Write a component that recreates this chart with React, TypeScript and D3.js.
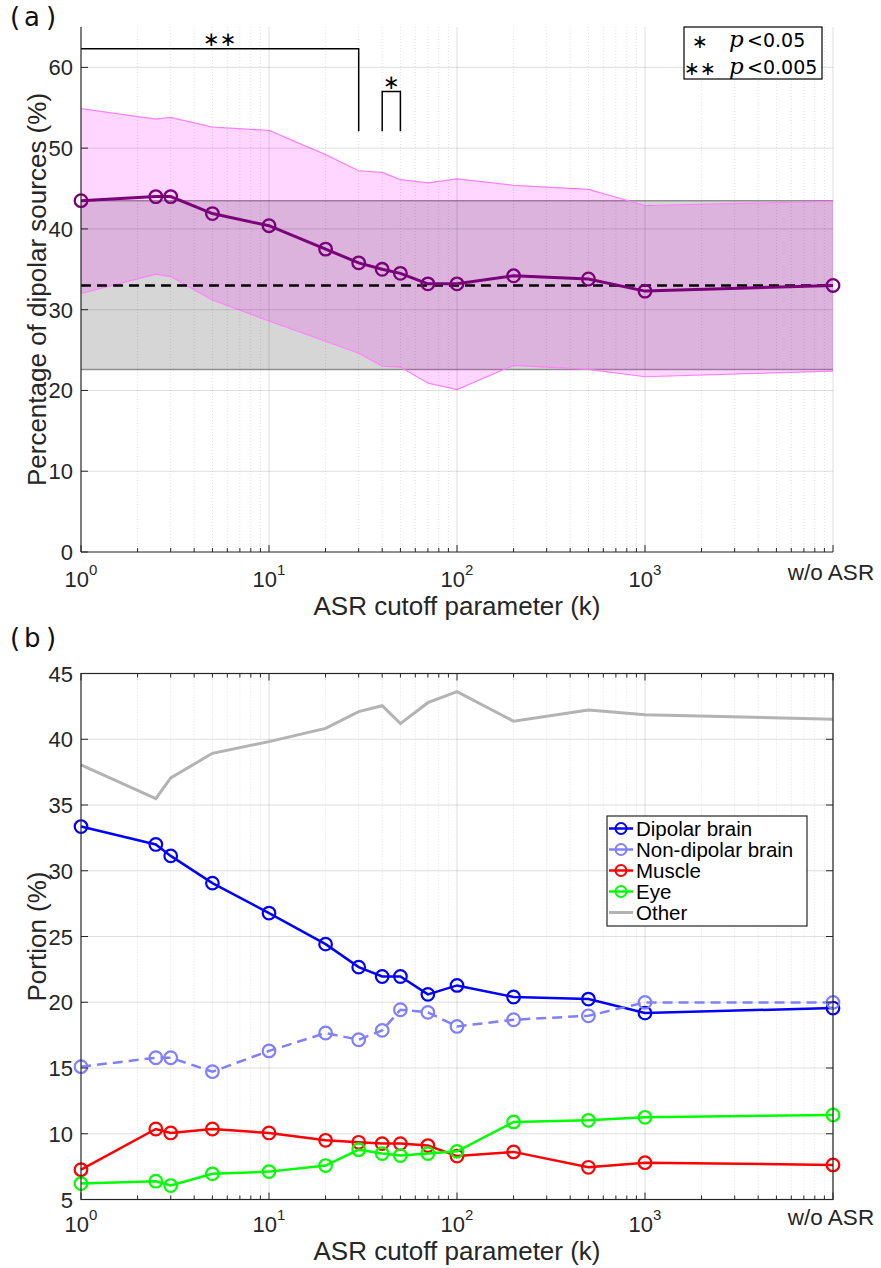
import React from "react";
import * as d3 from "d3";

// ---------- data ----------
// ASR cutoff values; 10000 stands for "w/o ASR"
const kValues = [1, 2.5, 3, 5, 10, 20, 30, 40, 50, 70, 100, 200, 500, 1000, 10000];
const xMajorTicks = [1, 10, 100, 1000];
const xMajorExponents = ["0", "1", "2", "3"];
const noAsrValue = 10000;
const noAsrLabel = "w/o ASR";

// Panel (a)
const dipolarMean = [43.5, 44.0, 44.0, 41.9, 40.4, 37.5, 35.8, 35.0, 34.5, 33.2, 33.2, 34.2, 33.8, 32.3, 33.0];
const dipolarUpper = [54.9, 53.6, 53.8, 52.6, 52.2, 49.2, 47.2, 47.0, 46.1, 45.7, 46.2, 45.4, 44.9, 42.9, 43.4];
const dipolarLower = [32.0, 34.4, 34.1, 31.2, 28.6, 26.1, 24.6, 23.0, 22.9, 20.9, 20.1, 23.1, 22.6, 21.7, 22.4];
const baselineMean = 33.0;
const baselineUpper = 43.5;
const baselineLower = 22.6;
const aYTicks = [0, 10, 20, 30, 40, 50, 60];
const sigBrackets = [
  { from: 1, to: 30, level: 62.3, drop: 52.1, label: "\u2217\u2217", leftDrop: false },
  { from: 40, to: 50, level: 57.0, drop: 52.1, label: "\u2217", leftDrop: true },
];
const sigLegendStars = ["\u2217", "\u2217\u2217"];
const sigLegendText = ["<0.05", "<0.005"];

// Panel (b)
const dipolarBrain = [33.36, 32.0, 31.13, 29.06, 26.78, 24.42, 22.67, 21.96, 21.96, 20.6, 21.28, 20.4, 20.24, 19.18, 19.56];
const nonDipolarBrain = [15.1, 15.78, 15.78, 14.72, 16.3, 17.66, 17.15, 17.86, 19.43, 19.23, 18.16, 18.67, 18.97, 19.99, 19.99];
const muscle = [7.27, 10.36, 10.06, 10.36, 10.06, 9.5, 9.35, 9.25, 9.25, 9.1, 8.3, 8.62, 7.45, 7.8, 7.63];
const eye = [6.21, 6.39, 6.06, 6.95, 7.12, 7.58, 8.79, 8.49, 8.34, 8.49, 8.66, 10.9, 11.02, 11.25, 11.43];
const other = [38.05, 35.49, 37.06, 38.93, 39.82, 40.83, 42.1, 42.55, 41.19, 42.78, 43.62, 41.37, 42.23, 41.87, 41.52];
const bYTicks = [5, 10, 15, 20, 25, 30, 35, 40, 45];
const bSeries = [
  { name: "Dipolar brain", values: dipolarBrain, color: "#0000ff", dashed: false, markers: true },
  { name: "Non-dipolar brain", values: nonDipolarBrain, color: "#8080ff", dashed: true, markers: true },
  { name: "Muscle", values: muscle, color: "#ff0000", dashed: false, markers: true },
  { name: "Eye", values: eye, color: "#00ff00", dashed: false, markers: true },
  { name: "Other", values: other, color: "#b3b3b3", dashed: false, markers: false },
];

// ---------- layout ----------
const W = 881;
const H = 1268;
const X0 = 81;
const X1 = 833;
const A = { top: 27, bottom: 552 };
const B = { top: 673.5, bottom: 1199.5 };
const AX = "#262626";
const FONT = "'Liberation Sans', Arial, sans-serif";
const GRID = "rgba(0,0,0,0.13)";
const GRID_MINOR = "rgba(0,0,0,0.12)";

const minorTicks: number[] = [];
for (const d of [1, 10, 100, 1000]) for (let m = 2; m <= 9; m++) minorTicks.push(m * d);

function XAxisLabels({ x, axisY }: { x: d3.ScaleLogarithmic<number, number>; axisY: number }) {
  return (
    <g fontFamily={FONT} fill={AX}>
      {xMajorTicks.map((t, i) => (
        <text key={t} x={x(t)} y={axisY + 35} fontSize={22} textAnchor="middle">
          10<tspan fontSize={15} dy={-12}>{xMajorExponents[i]}</tspan>
        </text>
      ))}
      <text x={x(noAsrValue) - 2} y={axisY + 28} fontSize={22.5} textAnchor="middle">
        {noAsrLabel}
      </text>
      <text x={(X0 + X1) / 2} y={axisY + 63} fontSize={26} textAnchor="middle">
        ASR cutoff parameter (k)
      </text>
    </g>
  );
}

function XTicks({ x, y, dir }: { x: d3.ScaleLogarithmic<number, number>; y: number; dir: number }) {
  return (
    <g stroke={AX} strokeWidth={1}>
      {[...xMajorTicks, noAsrValue].map((t) => (
        <line key={"M" + t} x1={x(t)} x2={x(t)} y1={y} y2={y + dir * 7} />
      ))}
      {minorTicks.map((t) => (
        <line key={"m" + t} x1={x(t)} x2={x(t)} y1={y} y2={y + dir * 4} />
      ))}
    </g>
  );
}

function XGrid({ x, top, bottom }: { x: d3.ScaleLogarithmic<number, number>; top: number; bottom: number }) {
  return (
    <g>
      {minorTicks.map((t) => (
        <line key={"gm" + t} x1={x(t)} x2={x(t)} y1={top} y2={bottom} stroke={GRID_MINOR} strokeWidth={1} strokeDasharray="1 2" />
      ))}
      {[10, 100, 1000, 10000].map((t) => (
        <line key={"gM" + t} x1={x(t)} x2={x(t)} y1={top} y2={bottom} stroke={GRID} strokeWidth={1} />
      ))}
    </g>
  );
}

function PanelLetter({ letter, y }: { letter: string; y: number }) {
  return (
    <g fontFamily="'DejaVu Sans', sans-serif" fontSize={26} fill="#111">
      <text x={10} y={y}>(</text>
      <text x={24} y={y}>{letter}</text>
      <text x={46} y={y}>)</text>
    </g>
  );
}

export default function App() {
  const x = d3.scaleLog().domain([1, 10000]).range([X0, X1]);
  const ya = d3.scaleLinear().domain([0, 65]).range([A.bottom, A.top]);
  const yb = d3.scaleLinear().domain([5, 45]).range([B.bottom, B.top]);
  const idx = kValues.map((_, i) => i);

  const band = d3
    .area<number>()
    .x((i) => x(kValues[i]))
    .y0((i) => ya(dipolarLower[i]))
    .y1((i) => ya(dipolarUpper[i]))(idx) as string;
  const upperLine = d3.line<number>().x((i) => x(kValues[i])).y((i) => ya(dipolarUpper[i]))(idx) as string;
  const lowerLine = d3.line<number>().x((i) => x(kValues[i])).y((i) => ya(dipolarLower[i]))(idx) as string;
  const meanLine = d3.line<number>().x((i) => x(kValues[i])).y((i) => ya(dipolarMean[i]))(idx) as string;

  return (
    <svg
      width={W}
      height={H}
      viewBox={`0 0 ${W} ${H}`}
      style={{ position: "absolute", left: 0, top: 0, background: "#fff" }}
    >
      <rect x={0} y={0} width={W} height={H} fill="#fff" />

      {/* ================= Panel (a) ================= */}
      <PanelLetter letter="a" y={26} />

      {/* baseline (w/o ASR) range band */}
      <rect
        x={X0}
        y={ya(baselineUpper)}
        width={X1 - X0}
        height={ya(baselineLower) - ya(baselineUpper)}
        fill="#d6d6d6"
      />
      <line x1={X0} x2={X1} y1={ya(baselineUpper)} y2={ya(baselineUpper)} stroke="#8f8f8f" strokeWidth={1.5} />
      <line x1={X0} x2={X1} y1={ya(baselineLower)} y2={ya(baselineLower)} stroke="#8f8f8f" strokeWidth={1.5} />

      {/* dipolar range band */}
      <path d={band} fill="rgba(255,0,255,0.16)" />
      <path d={upperLine} fill="none" stroke="#ff80ff" strokeWidth={1.2} />
      <path d={lowerLine} fill="none" stroke="#ff80ff" strokeWidth={1.2} />

      {/* grid (a) */}
      <XGrid x={x} top={A.top} bottom={A.bottom} />
      {aYTicks.filter((t) => t > 0).map((t) => (
        <line key={"ay" + t} x1={X0} x2={X1} y1={ya(t)} y2={ya(t)} stroke={GRID} strokeWidth={1} />
      ))}

      {/* baseline mean dashed */}
      <line
        x1={X0}
        x2={X1}
        y1={ya(baselineMean)}
        y2={ya(baselineMean)}
        stroke="#000"
        strokeWidth={2.5}
        strokeDasharray="10 6"
      />

      {/* mean line */}
      <path d={meanLine} fill="none" stroke="#7a007a" strokeWidth={3} />
      {idx.map((i) => (
        <circle key={"am" + i} cx={x(kValues[i])} cy={ya(dipolarMean[i])} r={6.3} fill="none" stroke="#7a007a" strokeWidth={2.3} />
      ))}

      {/* significance brackets */}
      {sigBrackets.map((b, i) => {
        const xa = x(b.from);
        const xb = x(b.to);
        const yl = ya(b.level);
        const yd = ya(b.drop);
        const d = b.leftDrop
          ? `M${xa},${yd}V${yl}H${xb}V${yd}`
          : `M${xa},${yl}H${xb}V${yd}`;
        return (
          <g key={"sb" + i}>
            <path d={d} fill="none" stroke="#000" strokeWidth={1.5} />
            <text
              x={(xa + xb) / 2}
              y={yl - 3}
              textAnchor="middle"
              fontFamily="'DejaVu Sans', sans-serif"
              fontSize={20}
              fill="#000"
            >
              {b.label}
            </text>
          </g>
        );
      })}

      {/* significance legend */}
      <rect x={684} y={27} width={138} height={52} fill="#fff" stroke="#000" strokeWidth={1.2} />
      {sigLegendStars.map((s, i) => (
        <g key={"sl" + i}>
          <text x={700} y={48 + i * 27} textAnchor="middle" fontFamily="'DejaVu Sans', sans-serif" fontSize={19} fill="#000">
            {s}
          </text>
          <text x={729} y={47 + i * 27} fontFamily="'DejaVu Serif', serif" fontStyle="italic" fontSize={23} fill="#000">
            p
          </text>
          <text x={747} y={47 + i * 27} fontFamily="'DejaVu Sans', sans-serif" fontSize={19} fill="#000">
            {sigLegendText[i]}
          </text>
        </g>
      ))}

      {/* axes (a) */}
      <line x1={X0} x2={X0} y1={A.top} y2={A.bottom} stroke={AX} strokeWidth={1.2} />
      <line x1={X0} x2={X1} y1={A.bottom} y2={A.bottom} stroke={AX} strokeWidth={1.2} />
      <XTicks x={x} y={A.bottom} dir={-1} />
      {aYTicks.map((t) => (
        <g key={"ayt" + t}>
          <line x1={X0} x2={X0 + 7} y1={ya(t)} y2={ya(t)} stroke={AX} strokeWidth={1} />
          <text x={X0 - 8} y={ya(t) + 8} textAnchor="end" fontFamily={FONT} fontSize={22} fill={AX}>
            {t}
          </text>
        </g>
      ))}
      <XAxisLabels x={x} axisY={A.bottom} />
      <text
        transform={`translate(46,${(A.top + A.bottom) / 2}) rotate(-90)`}
        textAnchor="middle"
        fontFamily={FONT}
        fontSize={26}
        fill={AX}
      >
        Percentage of dipolar sources (%)
      </text>

      {/* ================= Panel (b) ================= */}
      <PanelLetter letter="b" y={647} />

      <XGrid x={x} top={B.top} bottom={B.bottom} />
      {bYTicks.map((t) => (
        <line key={"by" + t} x1={X0} x2={X1} y1={yb(t)} y2={yb(t)} stroke={GRID} strokeWidth={1} />
      ))}

      {bSeries.map((s) => {
        const path = d3.line<number>().x((i) => x(kValues[i])).y((i) => yb(s.values[i]))(idx) as string;
        return (
          <g key={s.name}>
            <path
              d={path}
              fill="none"
              stroke={s.color}
              strokeWidth={s.markers ? 2.5 : 3}
              strokeDasharray={s.dashed ? "10 6" : undefined}
            />
            {s.markers &&
              idx.map((i) => (
                <circle
                  key={s.name + i}
                  cx={x(kValues[i])}
                  cy={yb(s.values[i])}
                  r={6.3}
                  fill="none"
                  stroke={s.color}
                  strokeWidth={2.2}
                />
              ))}
          </g>
        );
      })}

      {/* legend (b) */}
      <rect x={607} y={816} width={200} height={110} fill="#fff" stroke="#262626" strokeWidth={1.2} />
      {bSeries.map((s, i) => {
        const cy = 828.5 + i * 21;
        return (
          <g key={"lg" + s.name}>
            <line x1={609} x2={633} y1={cy} y2={cy} stroke={s.color} strokeWidth={s.markers ? 2.5 : 3} />
            {s.markers && <circle cx={621} cy={cy} r={5.5} fill="none" stroke={s.color} strokeWidth={2} />}
            <text x={636} y={cy + 7} fontFamily={FONT} fontSize={20.5} fill="#000">
              {s.name}
            </text>
          </g>
        );
      })}

      {/* axes (b) box */}
      <rect x={X0} y={B.top} width={X1 - X0} height={B.bottom - B.top} fill="none" stroke={AX} strokeWidth={1.2} />
      <XTicks x={x} y={B.bottom} dir={-1} />
      <XTicks x={x} y={B.top} dir={1} />
      {bYTicks.map((t) => (
        <g key={"byt" + t}>
          <line x1={X0} x2={X0 + 7} y1={yb(t)} y2={yb(t)} stroke={AX} strokeWidth={1} />
          <line x1={X1} x2={X1 - 7} y1={yb(t)} y2={yb(t)} stroke={AX} strokeWidth={1} />
          <text x={X0 - 8} y={yb(t) + 8} textAnchor="end" fontFamily={FONT} fontSize={22} fill={AX}>
            {t}
          </text>
        </g>
      ))}
      <XAxisLabels x={x} axisY={B.bottom - 3} />
      <text
        transform={`translate(46,${(B.top + B.bottom) / 2}) rotate(-90)`}
        textAnchor="middle"
        fontFamily={FONT}
        fontSize={26}
        fill={AX}
      >
        Portion (%)
      </text>
    </svg>
  );
}
